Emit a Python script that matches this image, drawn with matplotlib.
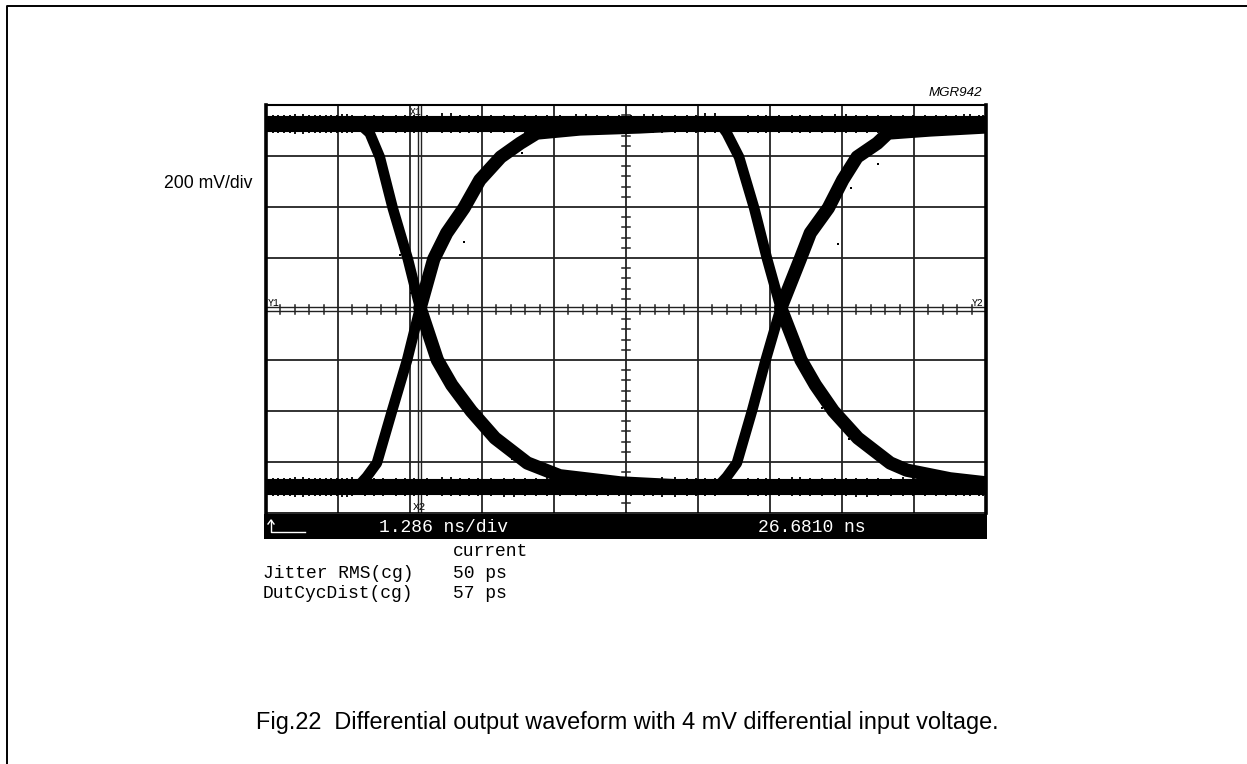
import matplotlib
matplotlib.use("Agg")
import matplotlib.pyplot as plt

# values in scope divisions: x 0..10 left to right, y -4..4 around centre
fall1_x = [1.33, 1.44, 1.58, 1.76, 1.97, 2.14, 2.38, 2.58, 2.85, 3.18, 3.63, 4.08, 4.92, 5.75]
fall1_y = [3.59, 3.45, 2.98, 1.98, 0.98, 0.02, -1.0, -1.49, -2.0, -2.53, -3.02, -3.27, -3.41, -3.47]
rise1_x = [1.31, 1.40, 1.54, 1.75, 1.96, 2.14, 2.33, 2.51, 2.75, 2.97, 3.26, 3.53, 3.76, 4.36, 5.19, 6.03]
rise1_y = [-3.43, -3.29, -3.02, -2.0, -1.0, 0.02, 0.98, 1.49, 1.98, 2.53, 2.98, 3.25, 3.45, 3.53, 3.57, 3.63]
fall2_x = [6.33, 6.40, 6.57, 6.78, 6.96, 7.15, 7.43, 7.63, 7.88, 8.22, 8.67, 8.90, 9.5, 10.0]
fall2_y = [3.59, 3.45, 2.98, 1.98, 0.98, 0.02, -1.0, -1.49, -2.0, -2.53, -3.02, -3.16, -3.33, -3.41]
rise2_x = [6.31, 6.40, 6.54, 6.75, 6.94, 7.15, 7.42, 7.56, 7.81, 8.01, 8.21, 8.49, 8.64, 9.22, 10.0]
rise2_y = [-3.43, -3.29, -3.02, -2.0, -1.0, 0.02, 0.98, 1.49, 1.98, 2.53, 2.98, 3.25, 3.45, 3.51, 3.57]

high_level = 3.63
low_level = -3.49

# stray samples just outside the two flat bands
spec_x = [0.1, 0.25, 0.4, 0.6, 0.75, 0.9, 1.05, 1.2, 1.5, 1.8, 2.05, 2.45, 2.7, 2.95, 3.3, 3.6, 3.9, 4.3, 4.6,
          4.9, 5.25, 5.5, 5.85, 6.1, 6.7, 6.95, 7.3, 7.55, 7.9, 8.2, 8.5, 8.85, 9.15, 9.45, 9.7, 9.9]
spec_x2 = [0.17, 0.33, 0.52, 0.68, 0.83, 0.98, 1.13, 1.38, 1.63, 1.93, 2.24, 2.57, 2.82, 3.12, 3.44, 3.75, 4.08, 4.45, 4.75,
           5.07, 5.38, 5.68, 5.97, 6.24, 6.83, 7.12, 7.42, 7.72, 8.05, 8.35, 8.68, 8.99, 9.3, 9.58, 9.78, 9.96]
spec_top = [3.81, 3.8, 3.82, 3.8, 3.81, 3.8, 3.82, 3.8, 3.8, 3.81, 3.8, 3.85, 3.8, 3.81, 3.8, 3.81, 3.8, 3.82, 3.8,
            3.8, 3.82, 3.8, 3.81, 3.84, 3.8, 3.81, 3.8, 3.81, 3.82, 3.8, 3.81, 3.8, 3.8, 3.81, 3.82, 3.8]
spec_top_low = [3.45, 3.46, 3.44, 3.46, 3.45, 3.46, 3.46, 3.46, 3.45, 3.46, 3.46, 3.45, 3.46, 3.45, 3.46, 3.46, 3.46,
                3.45, 3.46, 3.46, 3.45, 3.46, 3.46, 3.45, 3.46, 3.45, 3.46, 3.46, 3.45, 3.46, 3.46, 3.45, 3.46, 3.46, 3.45, 3.46]
spec_bot = [-3.31, -3.32, -3.3, -3.32, -3.31, -3.32, -3.32, -3.3, -3.32, -3.31, -3.32, -3.3, -3.32, -3.32, -3.31, -3.32,
            -3.3, -3.32, -3.32, -3.31, -3.32, -3.3, -3.32, -3.32, -3.31, -3.32, -3.3, -3.32, -3.31, -3.32, -3.32, -3.3, -3.32, -3.31, -3.32, -3.32]
spec_bot_low = [-3.67, -3.66, -3.68, -3.66, -3.67, -3.66, -3.68, -3.66, -3.67, -3.66, -3.67, -3.66, -3.66, -3.67, -3.68, -3.66,
                -3.67, -3.66, -3.67, -3.66, -3.66, -3.68, -3.66, -3.67, -3.66, -3.67, -3.66, -3.66, -3.67, -3.68, -3.66, -3.67, -3.66, -3.67, -3.66, -3.66]

# stray samples beside the edges
stray_x = [1.86, 2.02, 2.3, 2.75, 2.58, 3.05, 3.55, 1.83, 2.62, 2.6, 3.02, 3.42, 3.78, 7.95, 8.12, 8.5, 7.55, 7.72, 8.1, 8.3]
stray_y = [1.05, 0.32, -0.35, 1.32, 1.5, 2.55, 3.05, -1.55, -1.72, -1.55, -2.42, -2.95, -3.2, 1.28, 2.38, 2.85, -1.35, -1.95, -2.55, -2.72]

cursors_x = [2.11, 2.15]
minor_per_div = 5

fig = plt.figure(figsize=(12.47, 7.64), dpi=100)

# page layer, pixel coordinates, for the page border and the text
page = fig.add_axes([0, 0, 1, 1])
page.set_xlim(0, 1247)
page.set_ylim(764, 0)
page.axis("off")
page.plot([7, 7, 1247], [764, 5.5, 5.5], color="black", lw=1.4)

scope = fig.add_axes([266 / 1247, 1 - 513 / 764, 720 / 1247, 408 / 764])
scope.set_xlim(0, 10)
scope.set_ylim(-4, 4)
scope.set_xticks([])
scope.set_yticks([])
scope.patch.set_alpha(0)
scope.spines["left"].set_linewidth(2.6)
scope.spines["right"].set_linewidth(2.6)
scope.spines["top"].set_linewidth(1.5)
scope.spines["bottom"].set_linewidth(1.2)

grid_c = "#222222"
for i in range(1, 10):
    scope.axvline(i, color=grid_c, lw=1.3, zorder=1)
for j in range(-3, 4):
    if j != 0:
        scope.axhline(j, color=grid_c, lw=1.3, zorder=1)
scope.axhline(0.04, color=grid_c, lw=1.0, zorder=1)
scope.axhline(-0.03, color=grid_c, lw=1.0, zorder=1)
for c in cursors_x:
    scope.axvline(c, color=grid_c, lw=1.0, zorder=1)

# centre graticule ticks
for i in range(0, 10):
    for k in range(1, minor_per_div):
        t = i + k / minor_per_div
        scope.plot([t, t], [-0.09, 0.07], color=grid_c, lw=1.1, zorder=1)
for j in range(-4, 4):
    for k in range(1, minor_per_div):
        t = j + k / minor_per_div
        scope.plot([4.945, 5.055], [t, t], color=grid_c, lw=1.1, zorder=1)

# flat bands
scope.plot([0, 10], [high_level, high_level], color="black", lw=11.6, solid_capstyle="butt", zorder=3)
scope.plot([0, 10], [low_level, low_level], color="black", lw=11.6, solid_capstyle="butt", zorder=3)

# the eye edges, steep part is thinner than the slow tail after the crossing
for xs, ys in [(fall1_x, fall1_y), (rise1_x, rise1_y), (fall2_x, fall2_y), (rise2_x, rise2_y)]:
    scope.plot(xs[:6], ys[:6], color="black", lw=7.6, solid_joinstyle="round", solid_capstyle="round", zorder=3)
    scope.plot(xs[5:], ys[5:], color="black", lw=9.6, solid_joinstyle="round", solid_capstyle="round", zorder=3)

# hairy band edges, each sample stays attached to its band
for px in [spec_x, spec_x2]:
    scope.vlines(px, high_level, spec_top, color="black", lw=1.3, zorder=3)
    scope.vlines(px, high_level, spec_top_low, color="black", lw=1.3, zorder=3)
    scope.vlines(px, low_level, spec_bot, color="black", lw=1.3, zorder=3)
    scope.vlines(px, low_level, spec_bot_low, color="black", lw=1.3, zorder=3)
scope.scatter(stray_x, stray_y, s=3, marker="s", color="black", linewidths=0, zorder=3)

# status bar
page.fill_between([264, 987], 514, 539, color="black", lw=0, zorder=5)
page.plot([271, 271, 305], [520, 532, 532], color="white", lw=1.0, zorder=6)
page.plot([268, 271, 274], [524, 520, 524], color="white", lw=1.0, zorder=6)

mono = "Liberation Mono"
page.text(379, 528, "1.286 ns/div", family=mono, fontsize=13, color="white", va="center", zorder=6)
page.text(758, 528, "26.6810 ns", family=mono, fontsize=13, color="white", va="center", zorder=6)
page.text(453, 552, "current", family=mono, fontsize=13, va="center")
page.text(263, 573, "Jitter RMS(cg)", family=mono, fontsize=13, va="center")
page.text(453, 573, "50 ps", family=mono, fontsize=13, va="center")
page.text(263, 594, "DutCycDist(cg)", family=mono, fontsize=13, va="center")
page.text(453, 594, "57 ps", family=mono, fontsize=13, va="center")

page.text(410, 112, "X1", family=mono, fontsize=7, va="center", zorder=6)
page.text(413, 507, "X2", family=mono, fontsize=8, va="center", zorder=6)
page.text(268, 303, "Y1", family=mono, fontsize=7, va="center", zorder=6)
page.text(972, 303, "Y2", family=mono, fontsize=7, va="center", zorder=6)

sans = "Liberation Sans"
page.text(982, 93, "MGR942", family=sans, style="italic", fontsize=9.6, ha="right", va="center")
page.text(253, 183, "200 mV/div", family=sans, fontsize=12.7, ha="right", va="center")
page.text(256, 723, "Fig.22  Differential output waveform with 4 mV differential input voltage.",
          family=sans, fontsize=16.9, va="center")

fig.savefig("out.png", dpi=100)
